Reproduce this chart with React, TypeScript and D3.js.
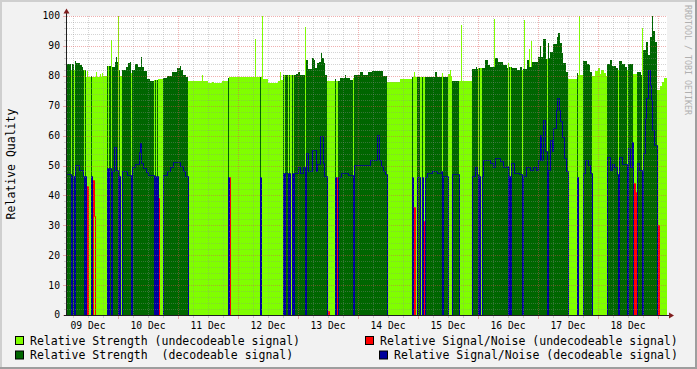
import React from "react";
import * as d3 from "d3";

// ---------------- data (slot index = 24-minute step from 09 Dec 03:36) ----------------
const SLOT_MINUTES = 24;
const SLOTS = 600;
const START = Date.UTC(2008, 11, 9, 3, 36);

// decodeable (D) / undecodeable (U) state changes: [slot, state]
const decodeRuns: [number, string][] = [
  [0, "D"], [4, "U"], [5, "D"], [7, "U"], [8, "D"], [17, "U"], [18, "D"], [19, "U"], [24, "D"], [25, "U"],
  [40, "D"], [41, "U"], [42, "D"], [44, "U"], [45, "D"], [51, "U"], [52, "D"], [53, "U"], [55, "D"], [64, "U"], [65, "D"],
  [87, "U"], [88, "D"], [89, "U"], [90, "D"], [91, "U"], [96, "D"], [121, "U"], [161, "D"], [162, "U"], [193, "D"], [194, "U"],
  [216, "D"], [217, "U"], [218, "D"], [221, "U"], [222, "D"], [223, "U"], [225, "D"], [226, "U"], [227, "D"], [238, "U"], [239, "D"],
  [260, "U"], [268, "D"], [269, "U"], [271, "D"], [286, "U"], [287, "D"], [320, "U"], [345, "D"], [346, "U"], [350, "D"], [353, "U"],
  [355, "D"], [356, "U"], [358, "D"], [375, "U"], [376, "D"], [381, "U"], [385, "D"], [392, "U"], [405, "D"], [411, "U"], [412, "D"],
  [413, "U"], [415, "D"], [441, "U"], [442, "D"], [443, "U"], [444, "D"], [455, "U"], [456, "D"], [480, "U"], [481, "D"], [501, "U"],
  [510, "D"], [511, "U"], [516, "D"], [525, "U"], [540, "D"], [551, "U"], [552, "D"], [560, "U"], [561, "D"], [566, "U"], [570, "D"],
  [575, "U"], [576, "D"], [590, "U"],
];

// relative strength, held until the next entry: [slot, value]
const strengthSteps: [number, number][] = [
  [0, 84], [4, 82], [5, 84], [7, 82], [8, 85], [9, 84.3], [13, 83.5], [15, 83], [16, 82], [19, 79.5], [20, 81.5], [21, 79.5],
  [24, 80], [25, 79.5], [29, 81.4], [30, 79.5], [33, 80.5], [34, 79.5], [35, 81], [36, 79.8], [40, 83.3], [44, 92], [45, 83],
  [48, 84.6], [49, 86.2], [50, 84.6], [51, 100], [52, 82], [53, 80], [55, 82], [59, 83], [61, 84.2], [63, 84.6], [64, 81],
  [65, 82], [68, 84], [71, 83], [74, 86.2], [75, 83], [77, 81.6], [80, 79], [83, 78.2], [87, 78.5], [91, 79], [96, 79.3],
  [100, 79.8], [105, 81.4], [110, 82.5], [113, 83.3], [114, 82], [116, 80.3], [119, 79.7], [121, 78.3], [135, 80.3], [136, 78.3],
  [141, 77.6], [145, 78], [147, 77.5], [155, 78.3], [161, 79.2], [162, 79.5], [188, 92.3], [189, 79.5], [195, 100], [196, 79],
  [201, 77.6], [211, 78.3], [213, 81.4], [214, 78.5], [216, 80.3], [229, 80.5], [231, 81.4], [233, 80.3], [238, 96.4],
  [239, 85.3], [241, 82.4], [245, 86], [247, 85.3], [248, 82.6], [250, 84.3], [252, 84.7], [254, 87.6], [255, 86], [257, 84.3],
  [258, 80.3], [260, 78.3], [268, 79], [269, 78.3], [273, 79.3], [278, 80.3], [279, 79.3], [283, 78.5], [286, 79.3], [287, 80.3],
  [293, 81.4], [296, 80.3], [301, 81.4], [305, 81.6], [316, 80], [320, 78], [333, 79], [345, 79.5], [347, 81.4], [348, 79.5],
  [358, 79.7], [368, 81.4], [370, 79.7], [375, 81], [376, 79.7], [381, 80.5], [383, 82], [384, 80], [385, 78.4], [392, 78.3],
  [394, 97], [395, 78.3], [405, 82.3], [409, 83], [410, 82.3], [411, 82.6], [418, 85.3], [421, 83.6], [423, 83], [428, 86],
  [431, 84.5], [436, 83.6], [440, 82.6], [441, 84.4], [442, 83], [445, 82.6], [450, 82], [453, 83], [455, 82], [456, 82.3],
  [460, 85.3], [462, 83], [465, 84.5], [471, 86.3], [473, 90], [474, 86.3], [476, 92.3], [479, 85.5], [481, 91], [482, 86],
  [483, 88], [486, 90.6], [490, 93], [491, 94.3], [493, 90.9], [495, 87.6], [496, 84.2], [499, 81.4], [501, 79], [510, 81],
  [511, 80.3], [512, 100], [513, 80.3], [516, 85], [520, 84], [522, 83.5], [523, 81.4], [525, 80], [528, 81.5], [531, 82.6],
  [533, 80.5], [534, 82], [537, 81], [539, 80], [540, 84], [543, 85.3], [545, 83.3], [549, 82.6], [551, 82], [552, 85],
  [555, 84], [558, 83], [560, 82], [561, 84], [566, 80.5], [570, 81.4], [574, 80.3], [575, 96], [576, 88.6], [579, 91.4],
  [581, 87], [583, 93], [585, 100], [586, 95], [588, 91.2], [590, 75.2], [593, 76.5], [595, 78], [597, 79.3],
];

// undecodeable-strength peaks showing above decodeable bars: [slot, value]
const undecodeablePeaks: [number, number][] = [[427, 99], [457, 98.6], [462, 89], [464, 91.6]];

// relative signal/noise of decodeable signal, held until next entry: [slot, value]
const snrSteps: [number, number][] = [
  [0, 47], [5, 46.5], [8, 50.2], [12, 48.5], [16, 46.5], [40, 49], [45, 48], [47, 56.2], [49, 48.5], [52, 46.5], [55, 48],
  [60, 46.8], [65, 49.6], [68, 50.5], [72, 54.6], [73, 57.5], [74, 51], [76, 49], [79, 47.7], [81, 46.7], [88, 46.5],
  [96, 46.8], [100, 48], [103, 49.6], [106, 51.3], [113, 50], [116, 48], [118, 46.5], [161, 46.3], [193, 46.3], [216, 47.4],
  [231, 49.6], [233, 47.5], [236, 49.6], [239, 54.2], [241, 48], [245, 55.2], [249, 48], [250, 50.5], [253, 59.9], [256, 51],
  [257, 46.5], [268, 46.3], [271, 46.3], [274, 47.4], [281, 46.8], [287, 50.2], [303, 52], [310, 60.2], [312, 52], [314, 50],
  [316, 48], [318, 47], [345, 46.3], [358, 46.3], [360, 47.4], [365, 48.2], [370, 47.5], [374, 48], [376, 46.5], [385, 47],
  [405, 46.5], [408, 49.6], [410, 47], [412, 46.5], [416, 51.8], [423, 51], [426, 49.6], [428, 52.5], [433, 51.5], [436, 49.6],
  [440, 50], [442, 46.5], [444, 50.8], [447, 47.5], [452, 47], [456, 46.5], [459, 49.6], [463, 48.5], [466, 49.6], [469, 48.5],
  [471, 51.8], [473, 60.2], [474, 52], [476, 65.2], [478, 55], [481, 48.5], [483, 58.5], [485, 55], [486, 62.5], [489, 68.6],
  [490, 72.5], [492, 68.6], [493, 65], [495, 59.5], [497, 52.5], [499, 48], [510, 46], [516, 47.4], [518, 51.8], [521, 50.2],
  [523, 47.4], [540, 52.9], [543, 48.5], [545, 50.5], [547, 49.5], [550, 47], [552, 52.9], [555, 50.5], [561, 55.8], [563, 49.5],
  [565, 58], [570, 51], [572, 48.5], [576, 54.2], [578, 66], [579, 72.5], [581, 82], [583, 77], [584, 72], [585, 62], [587, 57],
];

// relative signal/noise of undecodeable signal (non-zero slots only): [slot, value]
const undecSnr: [number, number][] = [
  [20, 43], [26, 45], [27, 33], [91, 39], [162, 46], [261, 1.5], [270, 46], [347, 36], [357, 31.5], [441, 43],
  [567, 44], [569, 41], [591, 30],
];

const yTicks = [0, 10, 20, 30, 40, 50, 60, 70, 80, 90, 100];

const legendLabels = [
  "Relative Strength (undecodeable signal)",
  "Relative Strength  (decodeable signal)",
  "Relative Signal/Noise (undecodeable signal)",
  "Relative Signal/Noise (decodeable signal)",
];

// ---------------- helpers ----------------
function expand<T>(steps: [number, T][], n: number): T[] {
  const out: T[] = new Array(n);
  let k = 0;
  for (let i = 0; i < n; i++) {
    while (k + 1 < steps.length && steps[k + 1][0] <= i) k++;
    out[i] = steps[k][1];
  }
  return out;
}

const C = {
  back: "#f2f2f2",
  shadeA: "#cfcfcf",
  shadeB: "#9e9e9e",
  light: "#80ff00",
  dark: "#006600",
  red: "#ff0000",
  blue: "#00009c",
  grid: "rgba(143,143,143,0.38)",
  mgrid: "rgba(222,79,79,0.45)",
  arrow: "#801f1f",
  axis: "#1f1f1f",
};

const FONT = "'DejaVu Sans Mono', monospace";

export default function App() {
  const W = 697, H = 369;
  const X0 = 67, X1 = 667, YT = 16, YB = 315;

  const slotTime = (i: number) => new Date(START + i * SLOT_MINUTES * 60000);
  const x = d3.scaleTime().domain([slotTime(0), slotTime(SLOTS)]).range([X0, X1]);
  const y = d3.scaleLinear().domain([0, 100]).range([YB, YT]);

  const state = expand(decodeRuns, SLOTS);
  const strength = expand(strengthSteps, SLOTS);
  const snr = expand(snrSteps, SLOTS);
  const peakMap = new Map(undecodeablePeaks);
  const redMap = new Map(undecSnr);

  const lightVals = state.map((s, i) => (s === "U" ? strength[i] : peakMap.get(i) ?? 0));
  const darkVals = state.map((s, i) => (s === "D" ? strength[i] : 0));
  const blueVals = state.map((s, i) => (s === "D" ? snr[i] : 0));
  const redVals = state.map((_, i) => redMap.get(i) ?? 0);

  const withEnd = (v: number[]) => [...v.map((val, i) => [i, val] as [number, number]), [SLOTS, v[SLOTS - 1]] as [number, number]];

  const area = d3
    .area<[number, number]>()
    .curve(d3.curveStepAfter)
    .x((d) => x(slotTime(d[0])))
    .y0(y(0))
    .y1((d) => y(d[1]));
  const line = d3
    .line<[number, number]>()
    .curve(d3.curveStepAfter)
    .x((d) => x(slotTime(d[0])) + 0.5)
    .y((d) => Math.round(y(d[1])) + 0.5);

  // grid
  const minorY = d3.range(2, 100, 2).filter((v) => v % 10 !== 0);
  const majorY = yTicks.filter((v) => v > 0);
  const sixHours = d3.utcHour.every(6)!.range(slotTime(0), slotTime(SLOTS));
  const midnights = sixHours.filter((d) => d.getUTCHours() === 0);
  const minorX = sixHours.filter((d) => d.getUTCHours() !== 0);
  const noons = d3
    .utcDay.range(d3.utcDay.floor(slotTime(0)), slotTime(SLOTS))
    .map((d) => new Date(+d + 12 * 3600000))
    .filter((d) => d <= slotTime(SLOTS));
  const fmt = d3.utcFormat("%d %b");

  const px = (v: number) => Math.round(v) + 0.5;

  return (
    <svg width={W} height={H} style={{ display: "block", position: "absolute", left: 0, top: 0 }}>
      {/* background & frame */}
      <rect x={0} y={0} width={W} height={H} fill={C.back} />
      <rect x={0} y={0} width={W} height={2} fill={C.shadeA} />
      <rect x={0} y={0} width={2} height={H} fill={C.shadeA} />
      <rect x={0} y={H - 2} width={W} height={2} fill={C.shadeB} />
      <rect x={W - 2} y={0} width={2} height={H} fill={C.shadeB} />
      <rect x={X0} y={YT} width={X1 - X0} height={YB - YT} fill="#ffffff" />

      {/* graph elements */}
      <g shapeRendering="crispEdges">
        <path d={area(withEnd(lightVals)) || ""} fill={C.light} />
        <path d={area(withEnd(darkVals)) || ""} fill={C.dark} />
      </g>
      <path d={line(withEnd(redVals)) || ""} fill="none" stroke={C.red} strokeWidth={1} />
      <path d={line(withEnd(blueVals)) || ""} fill="none" stroke={C.blue} strokeWidth={1} />

      {/* grid */}
      <g strokeDasharray="1,1" strokeWidth={1} fill="none">
        {minorY.map((v) => (
          <line key={"my" + v} x1={X0} x2={X1} y1={px(y(v))} y2={px(y(v))} stroke={C.grid} />
        ))}
        {minorX.map((d) => (
          <line key={"mx" + +d} x1={px(x(d))} x2={px(x(d))} y1={YT} y2={YB} stroke={C.grid} />
        ))}
        {majorY.map((v) => (
          <line key={"My" + v} x1={X0} x2={X1} y1={px(y(v))} y2={px(y(v))} stroke={C.mgrid} />
        ))}
        {midnights.map((d) => (
          <line key={"Mx" + +d} x1={px(x(d))} x2={px(x(d))} y1={YT} y2={YB} stroke={C.mgrid} />
        ))}
      </g>

      {/* axis ticks */}
      <g strokeWidth={1}>
        {minorY.map((v) => (
          <line key={"ty" + v} x1={64} x2={66} y1={px(y(v))} y2={px(y(v))} stroke={C.grid} />
        ))}
        {yTicks.map((v) => (
          <line key={"tY" + v} x1={63} x2={66} y1={px(y(v))} y2={px(y(v))} stroke={C.mgrid} />
        ))}
        {minorX.map((d) => (
          <line key={"tx" + +d} x1={px(x(d))} x2={px(x(d))} y1={YB} y2={YB + 3} stroke={C.grid} />
        ))}
        {midnights.map((d) => (
          <line key={"tX" + +d} x1={px(x(d))} x2={px(x(d))} y1={YB} y2={YB + 4} stroke={C.mgrid} />
        ))}
      </g>

      {/* axes */}
      <line x1={X0 - 0.5} x2={X0 - 0.5} y1={YB + 0.5} y2={10} stroke={C.axis} strokeWidth={1} />
      <line x1={X0 - 3} x2={670} y1={YB + 0.5} y2={YB + 0.5} stroke={C.axis} strokeWidth={1} />
      <path d={`M${X0 - 3.5},13.5 L${X0 - 0.5},8.5 L${X0 + 2.5},13.5 Z`} fill={C.arrow} />
      <path d={`M669,${YB - 2.5} L674,${YB + 0.5} L669,${YB + 3.5} Z`} fill={C.arrow} />

      {/* tick labels */}
      <g fontFamily={FONT} fontSize={9.7} fill="#000">
        {yTicks.map((v) => (
          <text key={"ly" + v} x={60} y={y(v)} dy="0.36em" textAnchor="end">
            {v}
          </text>
        ))}
        {noons.map((d) => (
          <text key={"lx" + +d} x={x(d)} y={329} textAnchor="middle">
            {fmt(d)}
          </text>
        ))}
      </g>

      {/* vertical axis title */}
      <text
        transform={`translate(15,164) rotate(-90)`}
        textAnchor="middle"
        fontFamily={FONT}
        fontSize={11.5}
        fill="#000"
      >
        Relative Quality
      </text>

      {/* watermark */}
      <text
        transform={`translate(685,5) rotate(90)`}
        fontFamily={FONT}
        fontSize={8.3}
        fill="#b0b0b0"
      >
        RRDTOOL / TOBI OETIKER
      </text>

      {/* legend */}
      <g fontFamily={FONT} fontSize={11.5} fill="#000">
        {[
          { sx: 15, sy: 336, tx: 30, ty: 344.5, c: C.light, t: legendLabels[0] },
          { sx: 15, sy: 350.5, tx: 30, ty: 359, c: C.dark, t: legendLabels[1] },
          { sx: 365, sy: 336, tx: 380, ty: 344.5, c: C.red, t: legendLabels[2] },
          { sx: 379, sy: 350.5, tx: 394, ty: 359, c: C.blue, t: legendLabels[3] },
        ].map((e, i) => (
          <g key={"lg" + i}>
            <rect x={e.sx + 0.5} y={e.sy + 0.5} width={8} height={8} fill={e.c} stroke="#000" strokeWidth={1} />
            <text x={e.tx} y={e.ty} xmlSpace="preserve" style={{ whiteSpace: "pre" }}>
              {e.t}
            </text>
          </g>
        ))}
      </g>
    </svg>
  );
}
